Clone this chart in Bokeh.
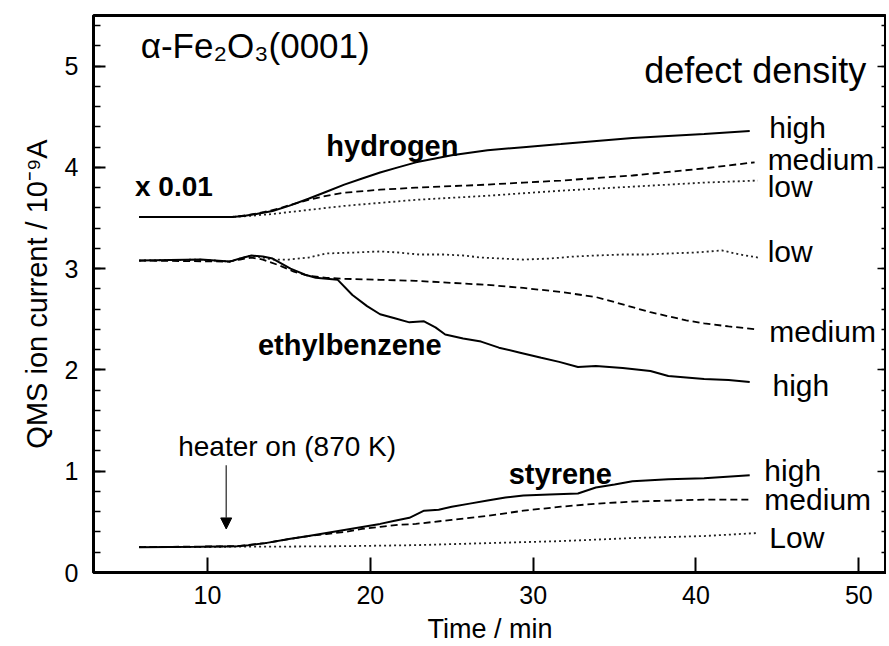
from bokeh.plotting import figure
from bokeh.models import (Label, Arrow, NormalHead, LinearAxis, FixedTicker,
                          SingleIntervalTicker, CustomJSTickFormatter)
from bokeh.embed import file_html
from bokeh.resources import INLINE

FONT = "Liberation Sans"

# ---- data ----
h_high_x = [5.8, 9.6, 11.5, 12.2, 13.0, 14.0, 15.0, 16.2, 17.3, 18.4, 19.5, 20.6, 21.7, 22.8, 25.0, 27.2, 29.4, 31.7, 33.9, 36.1, 38.3, 40.5, 43.3]
h_high_y = [3.51, 3.51, 3.51, 3.52, 3.54, 3.57, 3.62, 3.69, 3.76, 3.83, 3.89, 3.95, 4.00, 4.05, 4.12, 4.17, 4.20, 4.23, 4.26, 4.29, 4.31, 4.33, 4.36]
h_med_x = [5.8, 11.5, 12.5, 13.5, 14.3, 15.1, 16.2, 17.3, 18.4, 20.6, 22.8, 25.0, 27.2, 29.4, 31.7, 33.9, 36.1, 38.3, 40.5, 42.0, 43.6]
h_med_y = [3.51, 3.51, 3.53, 3.56, 3.59, 3.63, 3.68, 3.72, 3.75, 3.78, 3.80, 3.815, 3.83, 3.85, 3.87, 3.895, 3.92, 3.955, 3.99, 4.02, 4.05]
h_low_x = [5.8, 11.5, 12.5, 14.0, 16.2, 18.4, 20.6, 22.8, 25.0, 27.2, 29.4, 31.7, 33.9, 36.1, 38.3, 40.5, 43.8]
h_low_y = [3.51, 3.51, 3.52, 3.54, 3.58, 3.62, 3.65, 3.68, 3.70, 3.72, 3.745, 3.77, 3.79, 3.81, 3.83, 3.85, 3.87]

e_high_x = [5.8, 9.6, 11.35, 12.0, 12.7, 13.4, 14.0, 15.1, 16.0, 16.65, 18.0, 18.9, 19.8, 20.6, 21.5, 22.4, 23.3, 24.0, 24.6, 25.7, 26.8, 27.9, 29.2, 30.5, 31.6, 32.75, 33.85, 35.5, 37.2, 38.3, 40.5, 42.0, 43.3]
e_high_y = [3.08, 3.09, 3.07, 3.10, 3.13, 3.12, 3.10, 3.00, 2.94, 2.91, 2.89, 2.74, 2.63, 2.55, 2.51, 2.47, 2.48, 2.42, 2.35, 2.31, 2.28, 2.22, 2.17, 2.12, 2.08, 2.03, 2.04, 2.02, 1.99, 1.94, 1.91, 1.90, 1.88]
e_med_x = [5.8, 11.35, 12.0, 12.7, 13.4, 14.45, 15.3, 16.2, 17.3, 18.4, 20.6, 22.8, 25.0, 27.2, 29.4, 31.7, 33.85, 35.0, 36.1, 37.2, 38.3, 39.4, 40.5, 42.0, 43.8]
e_med_y = [3.08, 3.07, 3.09, 3.11, 3.09, 3.03, 2.97, 2.93, 2.91, 2.90, 2.89, 2.88, 2.86, 2.84, 2.81, 2.77, 2.72, 2.67, 2.62, 2.57, 2.53, 2.49, 2.46, 2.43, 2.40]
e_low_x = [5.8, 9.6, 11.35, 12.0, 12.7, 13.4, 14.0, 15.0, 16.2, 17.3, 19.0, 20.6, 21.7, 23.0, 24.5, 25.7, 26.8, 28.0, 29.4, 31.0, 32.5, 33.85, 35.5, 37.0, 38.3, 40.0, 41.6, 42.7, 43.8]
e_low_y = [3.08, 3.09, 3.07, 3.10, 3.13, 3.11, 3.09, 3.09, 3.11, 3.15, 3.16, 3.17, 3.16, 3.14, 3.14, 3.13, 3.11, 3.10, 3.09, 3.10, 3.12, 3.13, 3.14, 3.14, 3.15, 3.16, 3.18, 3.14, 3.11]

s_high_x = [5.8, 9.6, 11.8, 12.5, 13.56, 15.0, 16.2, 17.3, 18.4, 19.5, 20.6, 21.5, 22.4, 23.3, 24.2, 25.0, 26.1, 27.2, 28.3, 29.4, 31.0, 32.75, 33.85, 35.0, 36.1, 38.3, 40.5, 43.3]
s_high_y = [0.25, 0.255, 0.26, 0.27, 0.29, 0.33, 0.36, 0.39, 0.42, 0.45, 0.48, 0.51, 0.54, 0.61, 0.62, 0.65, 0.68, 0.71, 0.74, 0.76, 0.77, 0.78, 0.84, 0.87, 0.90, 0.92, 0.93, 0.96]
s_med_x = [5.8, 11.8, 13.56, 15.0, 16.2, 17.3, 18.4, 19.5, 20.6, 21.7, 22.8, 25.0, 27.2, 29.4, 31.7, 33.9, 36.1, 38.3, 40.5, 43.3]
s_med_y = [0.25, 0.26, 0.29, 0.33, 0.36, 0.38, 0.40, 0.43, 0.45, 0.47, 0.48, 0.52, 0.56, 0.61, 0.65, 0.68, 0.70, 0.71, 0.72, 0.72]
s_low_x = [5.8, 11.8, 14.0, 18.4, 22.8, 27.2, 31.7, 36.1, 40.5, 43.8]
s_low_y = [0.25, 0.255, 0.255, 0.26, 0.27, 0.29, 0.31, 0.34, 0.36, 0.39]

x_ticks = [10, 20, 30, 40, 50]

# ---- figure ----
p = figure(width=886, height=646, x_range=(3.0, 51.7), y_range=(0, 5.5),
           output_backend="svg", toolbar_location=None,
           min_border_left=93, min_border_top=15, min_border_bottom=72, min_border_right=0)
p.background_fill_color = "white"
p.border_fill_color = "white"
p.xgrid.visible = False
p.ygrid.visible = False
p.outline_line_color = "black"
p.outline_line_width = 3

p.xaxis.ticker = FixedTicker(ticks=x_ticks, minor_ticks=[])
p.yaxis.ticker = SingleIntervalTicker(interval=1, num_minor_ticks=5)
for ax in (p.xaxis[0], p.yaxis[0]):
    ax.axis_line_width = 2.5
    ax.major_tick_line_width = 2
    ax.minor_tick_line_width = 1.5
    ax.major_tick_out = 0
    ax.minor_tick_out = 0
    ax.major_label_text_font = FONT
    ax.major_label_text_font_size = "25px"
    ax.major_label_text_color = "black"
    ax.axis_label_text_font = FONT
    ax.axis_label_text_font_style = "normal"
    ax.axis_label_text_color = "black"
p.xaxis.major_tick_in = 15
p.xaxis.minor_tick_in = 0
p.xaxis.major_label_standoff = 13
p.xaxis.axis_label = "Time / min"
p.xaxis.axis_label_text_font_size = "27px"
p.xaxis.axis_label_standoff = 7
p.yaxis.major_tick_in = 12
p.yaxis.minor_tick_in = 7
p.yaxis.major_label_standoff = 15
p.yaxis.axis_label = "QMS ion current / 10⁻⁹A"
p.yaxis.axis_label_text_font_size = "29px"
p.yaxis.axis_label_standoff = 9

rax = LinearAxis(ticker=SingleIntervalTicker(interval=1, num_minor_ticks=5),
                 formatter=CustomJSTickFormatter(code="return ''"),
                 major_tick_in=9, major_tick_out=0, minor_tick_in=5, minor_tick_out=0,
                 major_label_standoff=0, axis_line_width=2,
                 major_tick_line_width=1.5, minor_tick_line_width=1.5)
p.add_layout(rax, "right")

# ---- curves ----
def draw(xs, ys, kind):
    if kind == "solid":
        p.line(xs, ys, line_color="black", line_width=2)
    elif kind == "dashed":
        p.line(xs, ys, line_color="black", line_width=1.8, line_dash="7 4")
    else:
        p.line(xs, ys, line_color="#222222", line_width=1.8, line_dash="2 3")

draw(h_low_x, h_low_y, "dotted")
draw(h_med_x, h_med_y, "dashed")
draw(h_high_x, h_high_y, "solid")
draw(e_low_x, e_low_y, "dotted")
draw(e_med_x, e_med_y, "dashed")
draw(e_high_x, e_high_y, "solid")
draw(s_low_x, s_low_y, "dotted")
draw(s_med_x, s_med_y, "dashed")
draw(s_high_x, s_high_y, "solid")

# ---- annotations ----
def lab(text, x, y, size, bold=False, align="left"):
    p.add_layout(Label(x=x, y=y, text=text, text_font=FONT, text_font_size=f"{size}px",
                       text_font_style="bold" if bold else "normal",
                       text_align=align, text_baseline="middle", text_color="black"))

lab("α-Fe₂O₃(0001)", 5.9, 5.2, 35)
lab("defect density", 50.46, 4.96, 36, align="right")
lab("hydrogen", 17.3, 4.21, 29, bold=True)
lab("x 0.01", 5.55, 3.81, 28, bold=True)
lab("ethylbenzene", 13.1, 2.25, 29, bold=True)
lab("styrene", 28.5, 0.97, 29, bold=True)
lab("heater on (870 K)", 8.2, 1.24, 28)

lab("high", 44.5, 4.39, 30)
lab("medium", 44.4, 4.08, 30)
lab("low", 44.4, 3.81, 30)
lab("low", 44.4, 3.17, 30)
lab("medium", 44.5, 2.38, 30)
lab("high", 44.7, 1.85, 30)
lab("high", 44.2, 1.01, 30)
lab("medium", 44.2, 0.72, 30)
lab("Low", 44.5, 0.35, 30)

p.add_layout(Arrow(x_start=11.15, y_start=1.06, x_end=11.15, y_end=0.43,
                   line_color="#333333", line_width=1.3,
                   end=NormalHead(size=11, fill_color="black", line_color="black")))

open("out.html", "w").write(file_html(p, INLINE))
